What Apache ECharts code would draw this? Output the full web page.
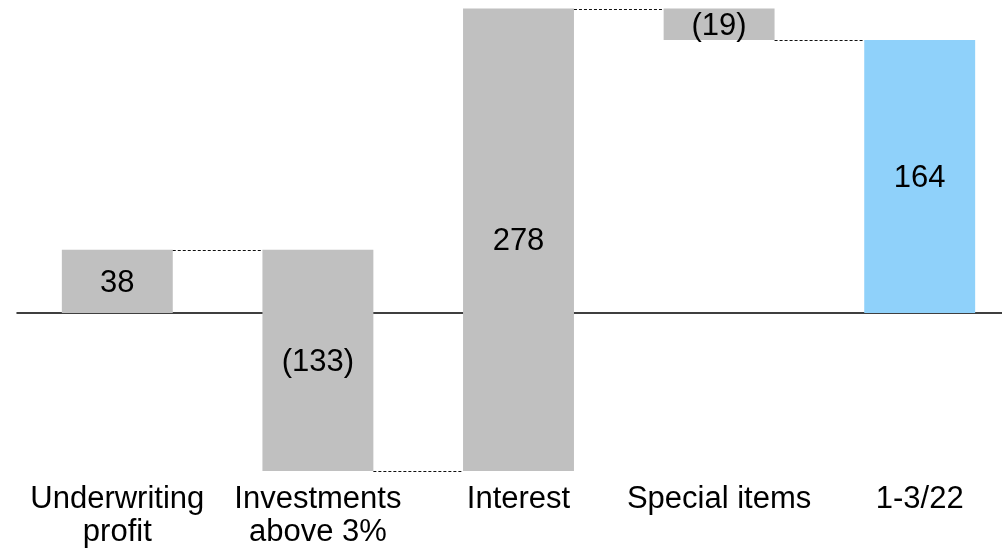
<!DOCTYPE html>
<html>
<head>
<meta charset="utf-8">
<script src="https://cdn.jsdelivr.net/npm/echarts@6/dist/echarts.min.js"></script>
<style>
  html, body { margin: 0; padding: 0; background: #fff; }
  #chart { width: 1002px; height: 551px; }
</style>
</head>
<body>
<div id="chart"></div>
<script>
// Bridge of the quarter's result, 1-3/22
const categories = ['Underwriting\nprofit', 'Investments\nabove 3%', 'Interest', 'Special items', '1-3/22'];
const deltas = [38, -133, 278, -19, 164];
const isTotal = [false, false, false, false, true];
const valueLabels = ['38', '(133)', '278', '(19)', '164'];

const GREY = '#c0c0c0';
const BLUE = '#8fd1fa';
const FONT = '"Liberation Sans", Arial, sans-serif';
const FONT_SIZE = 31;

// running start / end of each step
const rows = [];
let running = 0;
deltas.forEach((d, i) => {
  let start, end;
  if (isTotal[i]) { start = 0; end = d; running = d; }
  else { start = running; end = running + d; running = end; }
  rows.push([i, start, end]);
});

const chart = echarts.init(document.getElementById('chart'), null, { renderer: 'canvas' });

function renderStep(params, api) {
  const i = api.value(0);
  const start = api.value(1);
  const end = api.value(2);
  const band = api.size([1, 0])[0];
  const w = band * 0.553;
  const pStart = api.coord([i, start]);
  const pEnd = api.coord([i, end]);
  const x = pStart[0] - w / 2;
  const yTop = Math.min(pStart[1], pEnd[1]);
  const h = Math.abs(pStart[1] - pEnd[1]);
  const children = [
    {
      type: 'rect',
      shape: { x: x, y: yTop, width: w, height: h },
      style: { fill: isTotal[i] ? BLUE : GREY }
    },
    {
      type: 'text',
      style: {
        x: pStart[0], y: yTop + h / 2 + 2,
        text: valueLabels[i],
        fill: '#000', font: FONT_SIZE + 'px ' + FONT,
        align: 'center', verticalAlign: 'middle'
      }
    }
  ];
  if (i < rows.length - 1) {
    // dashed connector to the next step, snapped to the pixel grid
    const next = api.coord([i + 1, end]);
    const yc = Math.round(pEnd[1]) + 0.5;
    children.push({
      type: 'line',
      shape: { x1: x + w, y1: yc, x2: next[0] - w / 2, y2: yc },
      style: { stroke: '#111', lineWidth: 1, lineDash: [3, 2] }
    });
  }
  return { type: 'group', children: children };
}

chart.setOption({
  animation: false,
  // the plot runs a little past the right edge of the canvas
  grid: { left: 17, width: 1003, top: 8.5, bottom: 80, outerBoundsMode: 'none', containLabel: false },
  xAxis: [
    {
      type: 'category', data: categories, position: 'bottom',
      axisLine: { show: false, onZero: false }, axisTick: { show: false },
      axisLabel: { color: '#000', fontSize: FONT_SIZE, lineHeight: 33, fontFamily: FONT, margin: 12, interval: 0 }
    },
    {
      type: 'category', data: categories, position: 'bottom',
      axisLine: { show: true, onZero: true, lineStyle: { color: '#000', width: 1.5 } },
      axisTick: { show: false }, axisLabel: { show: false }
    }
  ],
  yAxis: { type: 'value', min: -95, max: 183, show: false, splitLine: { show: false } },
  series: [{
    type: 'custom',
    renderItem: renderStep,
    encode: { x: 0, y: [1, 2] },
    data: rows,
    z: 1
  }]
});
</script>
</body>
</html>
